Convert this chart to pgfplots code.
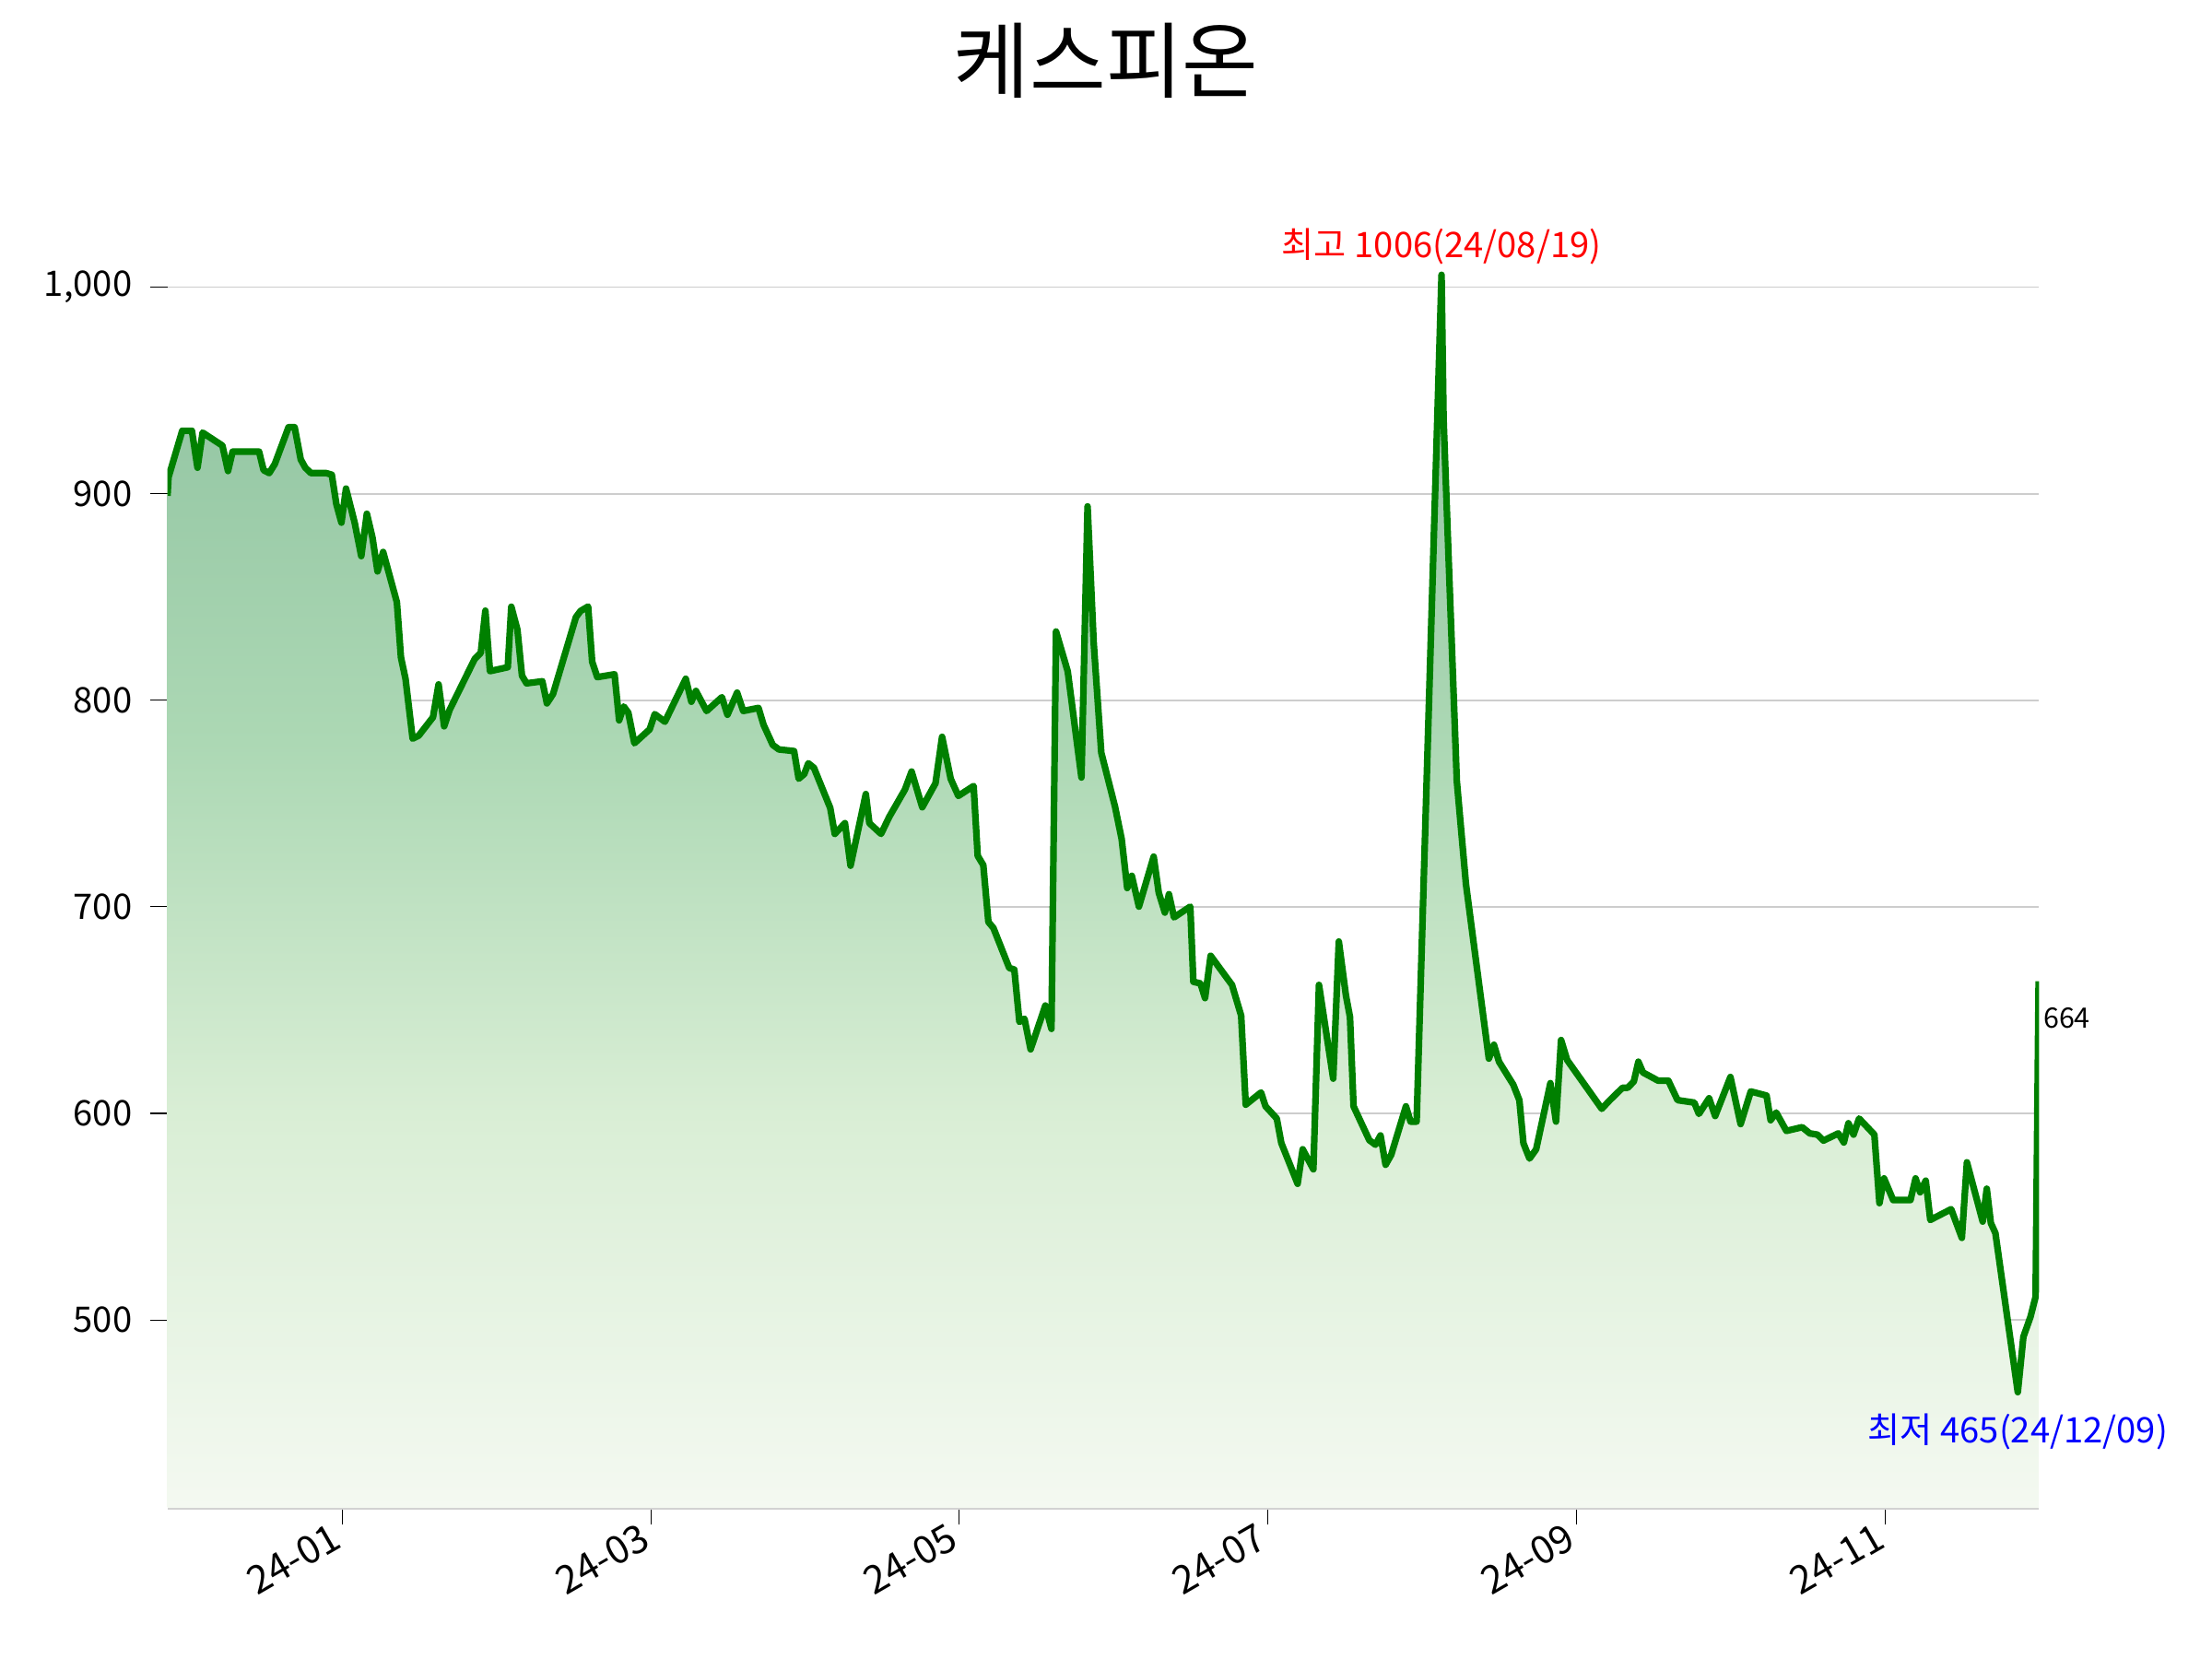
\documentclass[border=0pt]{standalone}
\usepackage{pgfplots}
\usepackage{pgfplotstable}
\pgfplotsset{compat=1.18}
\usepackage{fontspec}
\setmainfont{Noto Sans CJK KR}
\definecolor{linegreen}{RGB}{0,128,0}
\definecolor{cb}{RGB}{244,249,241}
\definecolor{c2}{RGB}{217,238,213}
\definecolor{c3}{RGB}{172,216,180}
\definecolor{ct}{RGB}{140,192,158}
\definecolor{gridgray}{RGB}{205,205,205}
\definecolor{spinegray}{RGB}{210,210,210}
\pgfdeclareverticalshading{areafill}{100bp}{color(0bp)=(cb); color(25bp)=(cb); color(41bp)=(c2); color(56bp)=(c3); color(75bp)=(ct); color(100bp)=(ct)}

\pgfplotstableread{
day price
-34.5 899
-34.3 908
-31.6 930.5
-29.7 930.5
-28.6 912.6
-27.6 929.6
-23.7 923.3
-22.6 911
-21.7 920.4
-16.5 920.4
-15.6 911.4
-14.5 910
-13.4 914.4
-10.7 932.2
-9.5 932.2
-8.3 916.6
-7.4 912.6
-6.3 910
-3.3 910
-2.2 909.2
-1.3 895
-0.3 886
0.6 902.5
2.3 886
3.6 869.8
4.7 890.3
5.8 878.8
6.8 862.4
7.9 871.8
9.6 856.5
10.6 847.5
11.4 820.8
12.3 810.4
13.7 781.4
14.9 782.9
17.7 791.8
18.8 807.7
19.9 787.4
21.0 795.5
25.9 820
27.1 823
28.0 843.4
28.9 814.1
32.4 816
33.1 845.3
34.3 834.2
35.2 811.9
36.1 808.2
39.2 809.2
40.1 798.5
41.3 803
45.8 840.2
46.7 843.2
48.2 845.4
49.0 818.6
50.0 811.2
53.4 812.6
54.3 790.3
55.2 797
56.1 794
57.3 779.2
60.3 785.9
61.3 793.3
63.3 789.6
67.4 810.4
68.5 799.3
69.4 804.5
71.5 794.8
74.5 801.5
75.6 793
77.5 803.7
78.7 794.8
81.7 796.3
82.7 788.1
84.5 778.4
85.7 776.2
88.7 775.4
89.6 762
90.7 764.3
91.5 769.5
92.6 767.3
95.8 747.9
96.7 735.3
98.7 740.5
99.8 719.9
102.8 754.6
103.5 740.5
105.8 735.3
107.4 743.5
110.5 756.8
111.8 765.5
113.9 748.2
116.5 759.8
117.8 782.3
119.5 761.9
121.0 753.7
124.0 758.5
124.8 724.7
125.9 720.2
126.9 692.7
127.9 689.7
131.0 670.4
132.0 669.6
133.0 644.3
134.0 645.8
135.2 631
138.1 652.2
139.3 640.9
140.2 833.3
142.5 814
145.2 762.6
146.4 893.9
147.6 828.1
149.1 774.6
151.8 748.5
153.1 732.9
154.2 709.1
155.1 715
156.5 700.1
159.4 724.3
160.4 706.8
161.6 697.2
162.4 706.1
163.4 694.9
166.6 700.1
167.2 663.7
168.6 662.9
169.5 655.8
170.6 676.3
173.9 665.2
174.8 662.2
176.6 647.3
177.5 604.2
180.5 610.1
181.4 603.4
183.6 597.5
184.5 585.6
187.7 565.9
188.7 582.6
190.8 572.9
191.9 662.2
194.7 616.8
195.8 683.2
197.2 657.1
198.0 646.6
198.7 603.4
201.8 587
203.0 584.8
204.0 589.3
205.0 575.1
206.1 579.9
209.0 603.4
209.9 596
211.1 596
216.0 1006
216.4 936
217.4 868
219.0 761
220.8 711
222.5 679
225.3 626.5
226.3 633.2
227.3 625
230.1 613.9
231.3 606.4
232.1 585.5
233.3 578.1
234.6 582.6
237.4 614.6
238.5 596
239.5 635.5
240.7 625.8
247.5 602.2
249.1 606.4
251.6 612.4
252.6 612.4
253.8 615.4
254.7 625
255.6 619.8
258.6 615.8
260.6 615.8
262.4 606.4
265.7 605.2
266.6 599.7
268.6 607.3
269.8 598.7
272.8 617.6
274.8 594.8
276.8 610.6
279.9 608.6
280.7 596.7
281.8 600.4
283.8 591.5
286.9 593.3
288.4 590.3
289.9 589.7
291.1 586.8
294.0 590.3
295.1 585.9
296.0 595.2
297.0 589.7
298.1 597.5
301.1 589.7
302.1 556.5
303.0 568.5
304.8 558
308.2 558
309.2 568.5
310.1 561.8
311.2 567.4
312.1 548.4
316.2 553.6
318.3 539.7
319.3 576.3
322.4 547.6
323.2 563.5
324.0 546.9
324.9 542
329.3 465
330.4 491.8
331.8 501.5
332.8 511.2
333.4 664
}\pricedata

\begin{document}
\begin{tikzpicture}
\path[use as bounding box] (0,0) rectangle (304.8mm,228.6mm);
\node[font=\fontsize{32.5}{38}\selectfont] at (152.4mm,220.3mm) {케스피온};
\begin{axis}[
  at={(23.08mm,20.83mm)}, anchor=south west,
  scale only axis, width=257.9mm, height=181.0mm,
  xmin=-34.5, xmax=333.5, ymin=409, ymax=1045,
  axis x line*=bottom, axis y line*=left,
  x axis line style={draw=spinegray, line width=1.1pt},
  y axis line style={draw=none},
  tick align=outside,
  major tick length=2.35mm,
  tick style={black, line width=0.4pt},
  xtick={-0.1,60.6,121.1,181.8,242.5,303.3},
  xticklabels={24-01,24-03,24-05,24-07,24-09,24-11},
  xticklabel style={xshift=-1.6mm, yshift=1.0mm, rotate=30, anchor=north east, font=\fontsize{15.2}{18}\selectfont, inner sep=1pt},
  ytick={500,600,700,800,900,1000},
  yticklabel style={font=\fontsize{13.8}{16}\selectfont, xshift=-1.3mm},
  /pgf/number format/assume math mode=true,
  /pgf/number format/1000 sep={,},
  ymajorgrids, grid style={draw=gridgray, line width=0.6pt},
  clip mode=individual,
]
\addplot[draw=none, shade, shading=areafill] table[x=day,y=price] {\pricedata} \closedcycle;
\addplot[linegreen, line width=2.6pt, line join=round, mark=none] table[x=day,y=price] {\pricedata};
\node[text=red, font=\fontsize{13.8}{16}\selectfont] at (axis cs:216.0,1006) [yshift=3.9mm] {최고 1006(24/08/19)};
\node[text=blue, font=\fontsize{13.8}{16}\selectfont] at (axis cs:329.3,465) [yshift=-5.4mm] {최저 465(24/12/09)};
\node[font=\fontsize{11}{13}\selectfont, anchor=west, inner sep=0pt] at (axis cs:333.4,646) [xshift=0.6mm] {664};
\end{axis}
\end{tikzpicture}
\end{document}
